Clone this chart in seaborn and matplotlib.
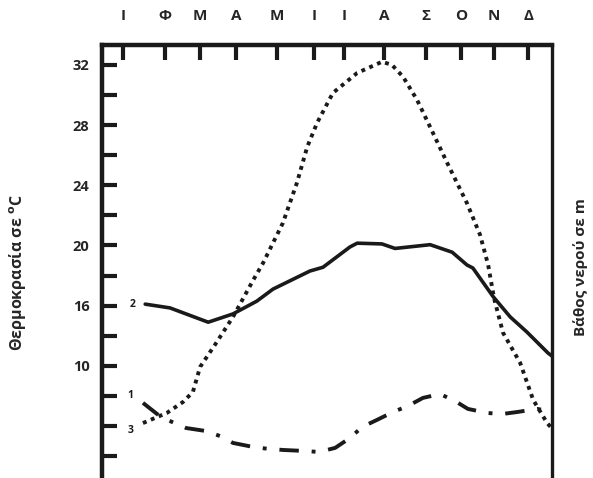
import numpy as np
import matplotlib
matplotlib.use("Agg")
import matplotlib.pyplot as plt
import pandas as pd
import seaborn as sns

# month initials (Greek) and where their ticks sit on the x scale (0-100)
mesi = ["Ι", "Φ", "Μ", "Α", "Μ", "Ι", "Ι", "Α", "Σ", "Ο", "Ν", "Δ"]
mesi_pos = [4.7, 14.0, 21.8, 29.8, 38.9, 47.1, 53.8, 62.7, 72.0, 79.8, 87.1, 94.7]

# curve 2 (solid)
x2 = [9.6, 15.1, 23.6, 29.1, 34.4, 38.0, 46.2, 49.1, 55.1, 56.7, 62.2, 65.1,
      72.9, 77.8, 81.1, 82.4, 86.9, 90.7, 94.4, 99.1, 100.0]
y2 = [16.1, 15.85, 14.9, 15.45, 16.3, 17.1, 18.3, 18.55, 19.9, 20.15, 20.1, 19.8,
      20.05, 19.55, 18.7, 18.5, 16.6, 15.25, 14.25, 12.85, 12.65]

# curve 3 (dotted)
x3 = [9.1, 14.4, 18.0, 20.2, 21.8, 25.1, 29.1, 33.6, 35.8, 40.2, 43.3, 45.6,
      47.8, 51.3, 56.7, 62.2, 64.4, 66.9, 70.0, 72.9, 76.7, 81.1, 84.0, 85.8,
      87.1, 89.1, 92.9, 95.8, 98.9, 99.8]
y3 = [8.2, 8.87, 9.6, 10.27, 11.93, 13.4, 15.25, 17.7, 18.84, 21.5, 24.15, 26.55,
      28.15, 30.13, 31.46, 32.2, 32.0, 31.2, 29.67, 27.87, 25.48, 22.8, 20.7, 18.7,
      16.5, 14.2, 12.2, 9.74, 8.2, 7.9]

# curve 1 (dash-dot)
x1 = [9.1, 13.1, 15.6, 18.7, 23.1, 26.2, 29.1, 33.6, 37.1, 40.4, 44.7, 48.2,
      51.8, 55.1, 57.8, 61.1, 64.7, 68.0, 71.3, 75.1, 78.4, 81.3, 85.6, 88.9,
      92.4, 96.7, 98.0]
y1 = [9.54, 8.6, 8.27, 7.87, 7.67, 7.34, 6.88, 6.61, 6.48, 6.41, 6.35, 6.28,
      6.55, 7.21, 7.94, 8.41, 8.94, 9.34, 9.87, 10.13, 9.67, 9.14, 8.87, 8.8,
      8.94, 9.14, 9.07]

y_major = [12, 16, 20, 24, 28, 32]
y_major_lab = ["10", "16", "20", "24", "28", "32"]
y_minor = [6, 8, 10, 14, 18, 22, 26, 30]

sns.set_style("white")
plt.rcParams["font.family"] = ["Open Sans", "DejaVu Sans"]
plt.rcParams["font.weight"] = "bold"

fig = plt.figure(figsize=(5.93, 4.78), dpi=100)
ax = fig.add_axes([0.172, 0.0, 0.759, 0.906])

col = "#1a1a1a"
d2 = pd.DataFrame({"x": x2, "y": y2})
d3 = pd.DataFrame({"x": x3, "y": y3})
d1 = pd.DataFrame({"x": x1, "y": y1})
sns.lineplot(data=d2, x="x", y="y", ax=ax, color=col, lw=2.6, estimator=None)
sns.lineplot(data=d3, x="x", y="y", ax=ax, color=col, lw=2.8, estimator=None,
             linestyle=(0, (1, 1.2)), dash_capstyle="butt")
sns.lineplot(data=d1, x="x", y="y", ax=ax, color=col, lw=2.8, estimator=None,
             linestyle=(0, (5, 3.3, 1, 3.3)), dash_capstyle="butt")

# curve numbers beside the start of each line
ax.annotate("2", (x2[0], y2[0]), xytext=(-9, 0), textcoords="offset points",
            ha="center", va="center", fontsize=7.5, fontweight="bold", color=col)
ax.annotate("1", (x1[0], y1[0]), xytext=(-9, 5), textcoords="offset points",
            ha="center", va="center", fontsize=7.5, fontweight="bold", color=col)
ax.annotate("3", (x3[0], y3[0]), xytext=(-9, -5), textcoords="offset points",
            ha="center", va="center", fontsize=7.5, fontweight="bold", color=col)

ax.set_xlim(0, 100)
ax.set_ylim(4.55, 33.32)

ax.xaxis.tick_top()
ax.set_xticks(mesi_pos, labels=mesi)
ax.set_yticks(y_major, labels=y_major_lab)
ax.set_yticks(y_minor, minor=True)
ax.tick_params(axis="x", which="both", direction="in", length=11, width=3,
               color=col, pad=16, labelsize=11, top=True, bottom=False)
ax.tick_params(axis="y", which="both", direction="in", length=11, width=3,
               color=col, pad=9, labelsize=10.5, left=True, right=False)
for t in ax.get_xticklabels() + ax.get_yticklabels():
    t.set_fontweight("bold")

ax.spines["bottom"].set_visible(False)
for s in ["left", "top"]:
    ax.spines[s].set_linewidth(3.2)
    ax.spines[s].set_color(col)
ax.spines["right"].set_linewidth(2.4)
ax.spines["right"].set_color(col)

ax.set_xlabel("")
ax.set_ylabel("")
fig.text(18 / 593, 1 - 273 / 478, "Θερμοκρασία σε $^{\\mathrm{o}}$C", rotation=90,
         ha="center", va="center", fontsize=11.5, fontweight="bold")
fig.text(581 / 593, 1 - 267 / 478, "Βάθος νερού σε m", rotation=90,
         ha="center", va="center", fontsize=11, fontweight="bold")

fig.savefig("out.png", dpi=100)
